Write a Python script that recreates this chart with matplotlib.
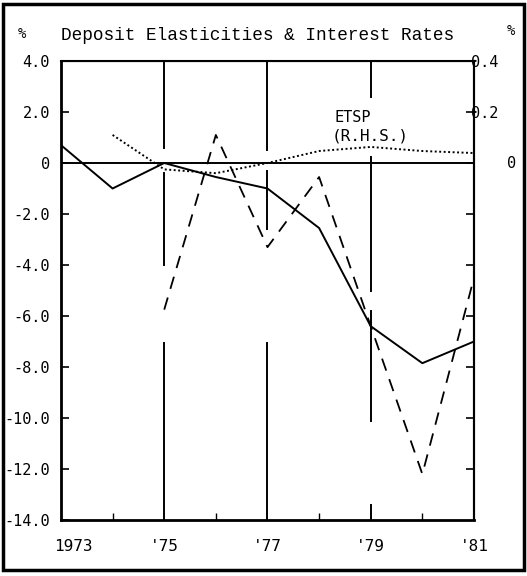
#!/usr/bin/env python3
"""Deposit elasticities & interest rates, 1973-81 (solid / dashed on left axis, ETSP dotted on right axis)."""
import matplotlib.pyplot as plt
import matplotlib.transforms as mtrans
from matplotlib.patches import Rectangle

# data
years = [1973, 1974, 1975, 1976, 1977, 1978, 1979, 1980, 1981]
solid_vals = [0.7, -1.0, 0.0, -0.55, -1.0, -2.55, -6.4, -7.85, -7.0]
dash_years = [1975, 1976, 1977, 1978, 1979, 1980, 1981]
dash_vals = [-5.75, 1.1, -3.3, -0.55, -6.4, -12.2, -4.5]
etsp_years = [1974, 1975, 1976, 1977, 1978, 1979, 1980, 1981]
etsp_vals = [0.11, -0.025, -0.04, 0.0, 0.047, 0.063, 0.047, 0.039]

left_ticks = [4, 2, 0, -2, -4, -6, -8, -10, -12, -14]
left_labels = ["4.0", "2.0", "0", "-2.0", "-4.0", "-6.0", "-8.0", "-10.0", "-12.0", "-14.0"]
right_ticks = [0.4, 0.2, 0.0, -0.2, -0.4, -0.6, -0.8, -1.0, -1.2]
right_labels = ["0.4", "0.2"] + [""] * 7
x_ticks = [1973, 1975, 1977, 1979, 1981]
x_labels = ["1973", "'75", "'77", "'79", "'81"]

# broken vertical grid lines (year, y from, y to), gaps where the curves pass
grid_segs = [
    (1975, 4.0, 0.6), (1975, -0.4, -4.0), (1975, -7.05, -14.0),
    (1977, 4.0, 0.5), (1977, -0.3, -2.6), (1977, -7.05, -14.0),
    (1979, 4.0, 2.6), (1979, 0.25, -5.0), (1979, -5.8, -10.1), (1979, -13.4, -14.0),
]

MONO = "DejaVu Sans Mono"

fig = plt.figure(figsize=(5.27, 5.76), dpi=100)
ax = fig.add_axes([0.1157, 0.0972, 0.7837, 0.7969])

for x, y0, y1 in grid_segs:
    ax.plot([x, x], [y0, y1], color="black", lw=1.4, zorder=1)
ax.axhline(0, color="black", lw=1.4, zorder=1)

ax.plot(years, solid_vals, color="black", lw=1.4, zorder=3)
ax.plot(dash_years, dash_vals, color="black", lw=1.3, dashes=(7, 5), zorder=3)

ax.set_xlim(1973, 1981)
ax.set_ylim(-14, 4)
ax.set_yticks(left_ticks)
ax.set_yticklabels(left_labels, family=MONO, fontsize=11)
ax.set_xticks(x_ticks)
# first year label is drawn separately so it can start just left of the axis
ax.set_xticklabels([""] + x_labels[1:], family=MONO, fontsize=11.5)
ax.annotate(x_labels[0], xy=(x_ticks[0], 0), xycoords=("data", "axes fraction"),
            xytext=(-5, -14), textcoords="offset points", family=MONO, fontsize=11.5,
            ha="left", va="top", annotation_clip=False)
ax.set_xticks([1974, 1976, 1978, 1980], minor=True)
ax.tick_params(axis="x", which="major", length=0, pad=14)
ax.tick_params(axis="x", which="minor", direction="in", length=5, width=1)
ax.tick_params(axis="y", direction="in", length=6, width=1.2, pad=8)
for side in ["left", "bottom"]:
    ax.spines[side].set_linewidth(2)
for side in ["top", "right"]:
    ax.spines[side].set_linewidth(1.5)

ax2 = ax.twinx()
ax2.plot(etsp_years, etsp_vals, color="black", lw=1.4, linestyle=(0, (1, 1.3)), zorder=3)
ax2.set_ylim(-1.4, 0.4)
ax2.set_yticks(right_ticks)
ax2.set_yticklabels(right_labels, family=MONO, fontsize=11)
ax2.tick_params(axis="y", direction="in", length=6, width=1.2, pad=-2)
ax2.spines["right"].set_linewidth(1.5)
# the right-hand "0" sits well out from the axis
blend = mtrans.blended_transform_factory(ax2.transAxes, ax2.transData)
ax2.text(1.09, 0.0, "0", transform=blend, family=MONO, fontsize=11,
         ha="center", va="center", clip_on=False)

ax2.text(1978.3, 0.18, "ETSP", family=MONO, fontsize=11, ha="left", va="center")
ax2.text(1978.25, 0.105, "(R.H.S.)", family=MONO, fontsize=11.5, ha="left", va="center")

fig.text(0.115, 0.939, "Deposit Elasticities & Interest Rates", family="Liberation Mono",
         fontsize=12.8, ha="left", va="center")
fig.text(0.042, 0.941, "%", family=MONO, fontsize=10, ha="center", va="center")
fig.text(0.970, 0.947, "%", family=MONO, fontsize=10, ha="center", va="center")

fig.patches.append(Rectangle((0.006, 0.01), 0.988, 0.983, transform=fig.transFigure,
                             fill=False, edgecolor="black", lw=2.5))

fig.savefig("out.png", dpi=100)
